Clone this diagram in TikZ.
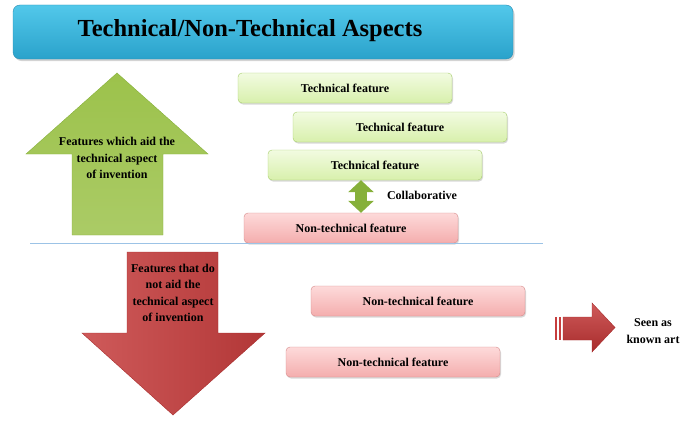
\documentclass[tikz,border=0pt]{standalone}
\usepackage{fontspec}
\setmainfont{Liberation Serif}
\usetikzlibrary{shadows,arrows.meta}
\tikzset{>=stealth}

\definecolor{barlight}{HTML}{52C8EA}
\definecolor{bardark}{HTML}{2AA2CB}
\definecolor{barline}{HTML}{2A8CB2}
\definecolor{techlight}{HTML}{F2FBE1}
\definecolor{techdark}{HTML}{D8F0AC}
\definecolor{techline}{HTML}{A6CD6A}
\definecolor{nonlight}{HTML}{FDDADA}
\definecolor{nondark}{HTML}{F4ADAD}
\definecolor{nonline}{HTML}{D68A8A}
\definecolor{greenarrow}{HTML}{9CC24B}
\definecolor{greendark}{HTML}{86B03A}
\definecolor{redarrow}{HTML}{C63D3D}
\definecolor{reddark}{HTML}{A82C2C}
\definecolor{sepline}{HTML}{9CC3E6}

\tikzset{
  lbl/.style={font=\fontsize{12}{16.5}\selectfont\bfseries, align=center},
  featbox/.style={lbl, rounded corners=4pt, minimum width=214pt, minimum height=30pt,
    drop shadow={shadow xshift=1pt, shadow yshift=-1.5pt, opacity=0.3}},
  techbox/.style={featbox, draw=techline, top color=techlight, bottom color=techdark},
  nonbox/.style={featbox, draw=nonline, top color=nonlight, bottom color=nondark},
}

\begin{document}
\begin{tikzpicture}[x=1pt,y=-1pt]
\useasboundingbox (0,0) rectangle (700,420);
% title bar
\node[rounded corners=7pt, draw=barline, top color=barlight, bottom color=bardark,
  minimum width=500pt, minimum height=54pt,
  drop shadow={shadow xshift=1.5pt, shadow yshift=-2pt, opacity=0.35}] (bar) at (263,32) {};
\node[font=\fontsize{24.5}{28}\selectfont\bfseries] (title) at (250,31) {Technical/Non-Technical Aspects};

% green up arrow
\draw[draw=greendark, top color=greenarrow, bottom color=greenarrow!85!white]
  (117,73) -- (208,154) -- (163,154) -- (163,235) -- (72,235) -- (72,154) -- (26,154) -- cycle;
\node[lbl] (aid) at (117,158) {Features which aid the\\technical aspect\\of invention};

% technical features
\node[techbox] (t1) at (345,88) {Technical feature};
\node[techbox] (t2) at (400,127) {Technical feature};
\node[techbox] (t3) at (375,165) {Technical feature};
\node[nonbox] (n1) at (351,228) {Non-technical feature};
\draw[greendark, line width=12pt,
  {Triangle[length=12pt,width=25pt]}-{Triangle[length=12pt,width=25pt]}]
  (t3.south -| 361,0) -- (n1.north -| 361,0);
\node[lbl] (collab) at (422,195) {Collaborative};

% separator
\draw[sepline, line width=0.8pt] (30,243) -- (543,243);

% red down arrow
\draw[draw=reddark, left color=redarrow!85!white, right color=redarrow!90!black]
  (127,252) -- (218,252) -- (218,333) -- (265,333) -- (173,415) -- (82,333) -- (127,333) -- cycle;
\node[lbl] (noaid) at (173,293) {Features that do\\not aid the\\technical aspect\\of invention};

% non-technical features
\node[nonbox] (n2) at (418,301) {Non-technical feature};
\node[nonbox] (n3) at (393,362) {Non-technical feature};

% striped arrow
\fill[redarrow] (555,317) rectangle (557,340);
\fill[redarrow] (558.5,317) rectangle (561,340);
\draw[draw=reddark, top color=redarrow!85!white, bottom color=reddark]
  (563,317) -- (592,317) -- (592,303) -- (615,327.5) -- (592,352) -- (592,340) -- (563,340) -- cycle;
\node[lbl] (art) at (653,331) {Seen as\\known art};
\end{tikzpicture}
\end{document}
